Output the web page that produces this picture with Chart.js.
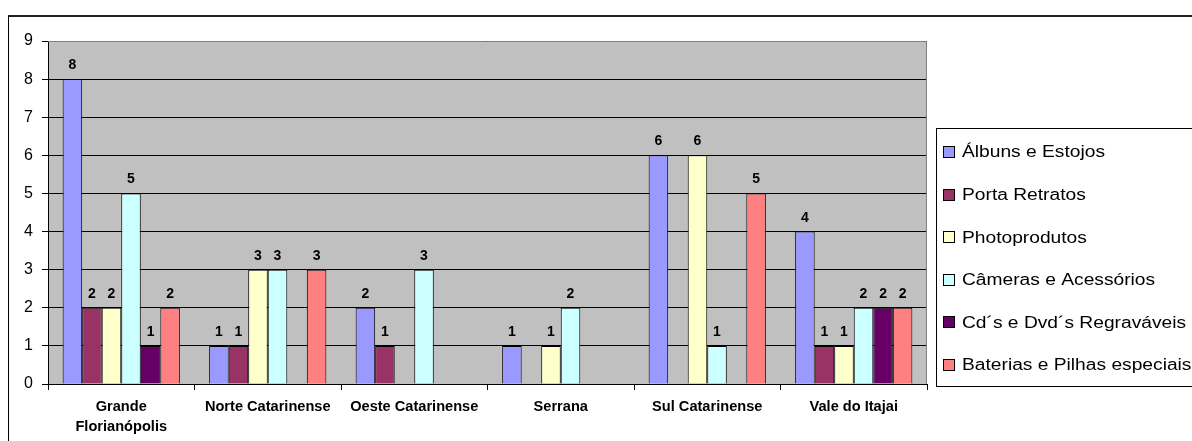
<!DOCTYPE html>
<html>
<head>
<meta charset="utf-8">
<script src="https://cdn.jsdelivr.net/npm/chart.js@4"></script>
<style>
  html, body { margin: 0; padding: 0; background: #fff; overflow: hidden; }
  #frame {
    position: absolute; left: 8px; top: 15px;
    width: 1300px; height: 500px;
    border-left: 1px solid #000; border-top: 2px solid #222;
  }
  #chart { position: absolute; left: 0; top: 0; }
</style>
</head>
<body>
<div id="frame"></div>
<canvas id="chart" width="1192" height="441"></canvas>
<script>
// Data (null = no bar)
const regions = [['Grande', 'Florianópolis'], 'Norte Catarinense', 'Oeste Catarinense', 'Serrana', 'Sul Catarinense', 'Vale do Itajai'];
const albuns     = [8, 1, 2, 1, 6, 4];
const retratos   = [2, 1, 1, null, null, 1];
const photo      = [2, 3, null, 1, 6, 1];
const cameras    = [5, 3, 3, 2, 1, 2];
const cds        = [1, null, null, null, null, 2];
const baterias   = [2, 3, null, null, 5, 2];
const yTicks = [0, 1, 2, 3, 4, 5, 6, 7, 8, 9];

const seriesNames = ['Álbuns e Estojos', 'Porta Retratos', 'Photoprodutos', 'Câmeras e Acessórios', 'Cd´s e Dvd´s Regraváveis', 'Baterias e Pilhas especiais'];
const seriesData = [albuns, retratos, photo, cameras, cds, baterias];
const seriesColors = ['#9999FF', '#993366', '#FFFFCC', '#CCFFFF', '#660066', '#FF8080'];

const FONT = "'Liberation Sans', Arial, sans-serif";

// gray plot background + gray plot border
const plotArea = {
    id: 'plotArea',
    beforeDraw(chart) {
        const a = chart.chartArea, c = chart.ctx;
        c.save();
        c.fillStyle = '#C0C0C0';
        c.fillRect(a.left, a.top, a.right - a.left, a.bottom - a.top);
        c.restore();
    },
    beforeDatasetsDraw(chart) {
        const a = chart.chartArea, c = chart.ctx;
        c.save();
        c.strokeStyle = '#808080';
        c.lineWidth = 1;
        c.beginPath();
        c.moveTo(a.left, a.top + 0.5);
        c.lineTo(a.right - 0.5, a.top + 0.5);
        c.lineTo(a.right - 0.5, a.bottom);
        c.stroke();
        c.restore();
    }
};

// value labels above bars
const barLabels = {
    id: 'barLabels',
    afterDatasetsDraw(chart) {
        const c = chart.ctx;
        c.save();
        c.font = 'bold 14px ' + FONT;
        c.fillStyle = '#000';
        c.textAlign = 'center';
        c.textBaseline = 'alphabetic';
        chart.data.datasets.forEach((ds, i) => {
            chart.getDatasetMeta(i).data.forEach((bar, j) => {
                const v = ds.data[j];
                if (v === null || v === undefined) return;
                c.fillText(String(v), bar.x, bar.y - 10);
            });
        });
        c.restore();
    }
};

// Excel-style legend box on the right
const sideLegend = {
    id: 'sideLegend',
    afterDraw(chart) {
        const c = chart.ctx;
        const boxX = 936.5, boxY = 128.5, boxW = 300, boxH = 258;
        c.save();
        c.strokeStyle = '#000';
        c.lineWidth = 1;
        c.strokeRect(boxX, boxY, boxW, boxH);
        c.font = '16px ' + FONT;
        c.textBaseline = 'middle';
        chart.data.datasets.forEach((ds, i) => {
            const cy = 152 + i * 42.6;
            const top = Math.round(cy - 6);
            c.fillStyle = ds.backgroundColor;
            c.fillRect(943, top, 12, 12);
            c.strokeStyle = '#000';
            c.strokeRect(943.5, top + 0.5, 11, 11);
            // the original text is drawn a bit wider than plain Arial
            c.save();
            c.translate(962, cy + 1);
            c.scale(1.2, 1);
            c.fillStyle = '#000';
            c.fillText(ds.label, 0, 0);
            c.restore();
        });
        c.restore();
    }
};

new Chart(document.getElementById('chart'), {
    type: 'bar',
    data: {
        labels: regions,
        datasets: seriesNames.map((name, i) => ({
            label: name,
            data: seriesData[i],
            backgroundColor: seriesColors[i],
            borderColor: '#000',
            borderWidth: 1,
            categoryPercentage: 0.8,
            barPercentage: 1
        }))
    },
    options: {
        responsive: false,
        animation: false,
        layout: { padding: { top: 41, right: 265, left: 0, bottom: 0 } },
        plugins: {
            legend: { display: false },
            tooltip: { enabled: false }
        },
        scales: {
            x: {
                grid: {
                    offset: true,
                    drawOnChartArea: false,
                    color: '#000',
                    tickLength: 6
                },
                border: { color: '#000', width: 1 },
                ticks: {
                    color: '#000',
                    font: { family: FONT, size: 14.6, weight: 'bold', lineHeight: 1.37 },
                    padding: 7,
                    maxRotation: 0,
                    autoSkip: false
                },
                afterFit(scale) { scale.height = 57; }
            },
            y: {
                min: 0,
                max: 9,
                afterBuildTicks(scale) { scale.ticks = yTicks.map(v => ({ value: v })); },
                grid: { color: '#000', tickLength: 6 },
                border: { color: '#000', width: 1 },
                ticks: {
                    color: '#000',
                    font: { family: FONT, size: 16 },
                    padding: 9
                },
                afterFit(scale) { scale.width = 48; }
            }
        }
    },
    plugins: [plotArea, barLabels, sideLegend]
});
</script>
</body>
</html>
